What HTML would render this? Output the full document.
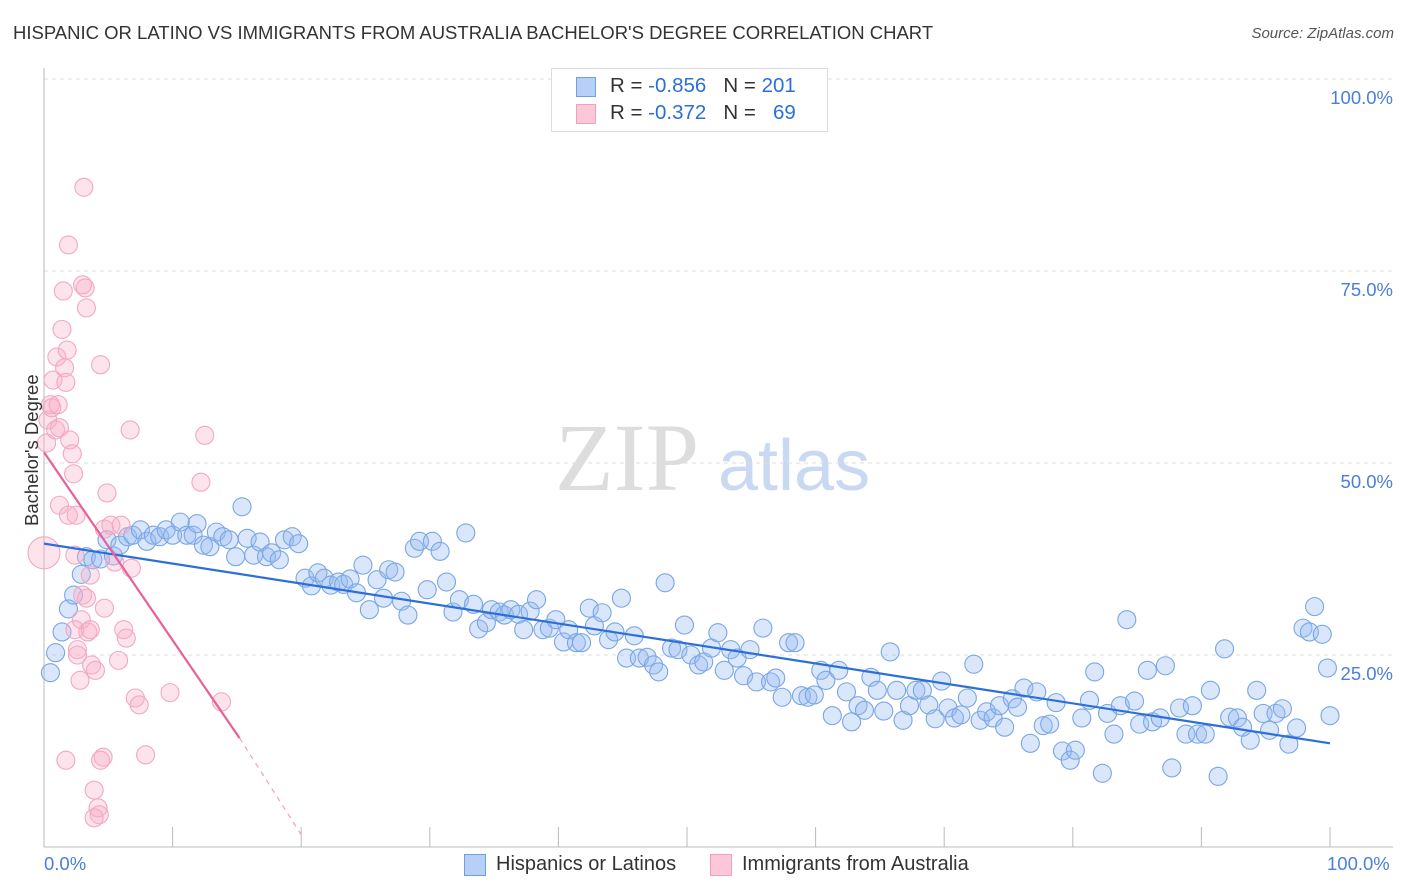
<!DOCTYPE html>
<html><head><meta charset="utf-8"><style>
body{margin:0;background:#fff;font-family:"Liberation Sans",sans-serif}
#c{position:relative;width:1406px;height:892px;overflow:hidden}
.t{position:absolute;white-space:nowrap}
</style></head><body>
<div id="c">
<div class="t" style="left:13px;top:22px;font-size:18.5px;color:#333">HISPANIC OR LATINO VS IMMIGRANTS FROM AUSTRALIA BACHELOR'S DEGREE CORRELATION CHART</div>
<div class="t" style="right:12px;top:25px;font-size:15px;color:#555;font-style:italic">Source: ZipAtlas.com</div>
<svg id="s" width="1406" height="892" style="position:absolute;left:0;top:0"></svg>
</div>
<script>
const blueX=[0.5,0.9,1.4,1.9,2.3,2.9,3.3,3.8,4.4,4.9,5.4,5.9,6.5,6.9,7.5,8.0,8.5,9.0,9.5,10.0,10.6,11.1,11.6,11.9,12.4,12.9,13.4,13.9,14.4,14.9,15.4,15.8,16.3,16.8,17.3,17.7,18.3,18.7,19.3,19.8,20.3,20.8,21.3,21.8,22.3,22.9,23.3,23.8,24.3,24.8,25.3,25.9,26.4,26.8,27.3,27.8,28.3,28.8,29.2,29.8,30.2,30.8,31.3,31.8,32.3,32.8,33.4,33.8,34.4,34.8,35.4,35.8,36.3,36.9,37.3,37.8,38.3,38.8,39.3,39.8,40.4,40.8,41.4,41.8,42.4,42.8,43.4,43.9,44.4,44.9,45.3,45.9,46.3,46.9,47.4,47.8,48.3,48.8,49.3,49.8,50.3,50.9,51.3,51.9,52.4,52.9,53.4,53.9,54.4,54.9,55.4,55.9,56.5,56.9,57.4,57.9,58.4,58.9,59.4,59.9,60.4,60.8,61.3,61.8,62.4,62.8,63.3,63.8,64.3,64.8,65.3,65.8,66.3,66.8,67.3,67.8,68.3,68.8,69.3,69.8,70.3,70.8,71.3,71.8,72.3,72.8,73.3,73.8,74.3,74.7,75.3,75.7,76.2,76.7,77.2,77.7,78.2,78.7,79.2,79.8,80.2,80.7,81.3,81.7,82.3,82.7,83.2,83.7,84.2,84.8,85.2,85.8,86.2,86.8,87.2,87.7,88.3,88.8,89.3,89.7,90.3,90.7,91.3,91.8,92.2,92.8,93.2,93.8,94.3,94.8,95.3,95.8,96.3,96.8,97.4,97.9,98.4,98.8,99.4,99.8,100];
const blueY=[22.7,25.3,28.0,31.0,32.8,35.5,37.8,37.4,37.5,40.0,37.9,39.3,40.4,40.6,41.3,39.8,40.6,40.4,41.3,40.6,42.3,40.6,40.6,42.1,39.3,39.1,41.0,40.4,40.0,37.8,44.3,40.2,38.0,39.7,37.8,38.3,37.4,40.0,40.4,39.5,35.0,34.0,35.7,35.0,34.1,34.5,34.2,34.9,33.1,36.7,30.9,34.8,32.4,36.1,35.8,32.0,30.2,38.9,39.8,33.5,39.8,38.5,34.5,30.6,32.2,40.9,31.6,28.4,29.2,30.9,30.6,30.2,30.9,30.3,28.3,30.7,32.2,28.3,28.5,29.6,26.7,28.3,26.6,26.6,31.1,28.8,30.5,27.0,28.0,32.4,24.6,27.5,24.6,24.7,23.7,22.8,34.4,25.9,25.7,28.9,25.0,23.7,24.1,25.9,27.9,23.0,25.7,24.6,22.3,25.7,21.5,28.5,21.5,22.0,19.5,26.6,26.6,19.7,19.5,19.8,23.0,21.7,17.1,23.0,20.2,16.3,18.4,17.8,22.1,20.4,17.7,25.4,20.4,16.5,18.4,20.4,20.4,18.5,16.7,21.6,18.1,16.8,17.2,19.4,23.8,16.5,17.6,16.8,18.4,15.6,19.3,18.2,20.7,13.5,20.2,15.8,16.0,18.8,12.5,11.3,12.6,16.8,19.1,22.8,9.6,17.4,14.7,18.4,29.6,19.0,16.0,23.0,16.3,16.8,23.6,10.3,18.1,14.7,18.4,14.7,14.7,20.4,9.2,25.8,16.9,16.8,15.6,13.9,20.4,17.4,15.2,17.4,18.0,13.4,15.5,28.5,28.0,31.3,27.7,23.3,17.1];
const pinkX=[0,0.2,0.3,0.5,0.6,0.7,0.9,1.0,1.2,1.2,1.4,1.5,1.6,1.7,1.8,1.9,1.9,2.0,2.2,2.3,2.4,2.5,2.6,2.6,2.8,3.0,3.0,3.1,3.2,3.3,3.4,3.6,3.7,3.9,4.0,4.2,4.3,4.4,4.6,4.7,4.7,4.9,5.2,5.5,5.8,6.0,6.2,6.4,6.7,6.8,7.1,7.4,7.9,9.8,12.2,12.5,13.8,1.7,1.1,2.4,2.9,3.3,3.6,4.4,3.9];
const pinkY=[38.3,52.6,55.6,57.6,57.2,60.8,54.3,63.8,54.6,44.5,67.4,72.4,62.4,60.5,64.7,78.4,43.2,53.0,51.2,48.6,28.3,43.2,25.7,25.0,21.7,32.8,73.2,85.9,72.8,70.2,28.0,35.4,23.7,7.4,23.0,5.1,4.2,62.8,11.7,41.4,31.1,46.1,41.9,37.1,24.3,41.9,28.3,27.2,54.3,36.3,19.4,18.5,12.0,20.1,47.5,53.6,18.9,11.3,57.6,38.0,29.6,32.4,28.3,11.3,3.8];
const blueTrend=[[0,39.5],[100,13.5]];
const pinkTrend=[[0,51.4],[15.2,14.2]];
const pinkDash=[[15.2,14.2],[20,1.6]];
const yTicks=[25,50,75,100];
const yTickLabels=["25.0%","50.0%","75.0%","100.0%"];

const X=v=>44+v*12.86, Y=v=>847-v*7.68;
const s=document.getElementById('s'),NS='http://www.w3.org/2000/svg';
function mk(t,a,p){const e=document.createElementNS(NS,t);for(const k in a)e.setAttribute(k,a[k]);(p||s).appendChild(e);return e;}
let w=mk('text',{x:555,y:490,'font-size':96,'font-family':'Liberation Serif,serif',fill:'#ddd'});w.textContent='ZIP';


let w2=mk('text',{x:718,y:490,'font-size':72,'font-family':'Liberation Sans,sans-serif',fill:'#c9d9f2'});w2.textContent='atlas';


yTicks.forEach((v,i)=>{
 let g=mk('line',{x1:44,x2:1393,y1:Y(v),y2:Y(v),stroke:'#ddd','stroke-dasharray':'4,4'});
 
 
 let t=mk('text',{x:1393,y:Y(v)+25,'text-anchor':'end','font-size':18.5,fill:'#4a7fd8','font-family':'Liberation Sans,sans-serif'});t.textContent=yTickLabels[i];
 
 
});
let ax=mk('line',{x1:44,x2:1393,y1:847,y2:847,stroke:'#bbb'});


let ay=mk('line',{x1:44,x2:44,y1:68,y2:847,stroke:'#bbb'});


for(let i=0;i<=10;i++){let t=mk('line',{x1:X(i*10),x2:X(i*10),y1:827,y2:847,stroke:'#bbb'});
 
 }
blueX.forEach((x,i)=>{let c=mk('circle',{cx:X(x),cy:Y(blueY[i]),r:9,fill:'rgba(150,185,240,0.35)',stroke:'#7aa6e4','stroke-width':1.1});
 
 });
pinkX.forEach((x,i)=>{let c=mk('circle',{cx:X(x),cy:Y(pinkY[i]),r:i==0?16:9,fill:'rgba(248,175,200,0.35)',stroke:'#f2a8c2','stroke-width':1.1});
 
 });
let bl=mk('line',{x1:X(blueTrend[0][0]),y1:Y(blueTrend[0][1]),x2:X(blueTrend[1][0]),y2:Y(blueTrend[1][1]),stroke:'#2c6fd6','stroke-width':2.2});


let pl=mk('line',{x1:X(pinkTrend[0][0]),y1:Y(pinkTrend[0][1]),x2:X(pinkTrend[1][0]),y2:Y(pinkTrend[1][1]),stroke:'#e8609a','stroke-width':2.2});


let pd=mk('line',{x1:X(pinkDash[0][0]),y1:Y(pinkDash[0][1]),x2:X(pinkDash[1][0]),y2:Y(pinkDash[1][1]),stroke:'#f0a0bc','stroke-width':1.2,'stroke-dasharray':'5,5'});


</script>
<div class="t" style="left:-38px;top:445px;font-size:18.5px;color:#333;transform:rotate(-90deg);transform-origin:center;width:140px;text-align:center">Bachelor's Degree</div>
<div class="t" style="left:44px;top:853px;font-size:18.5px;color:#4a7fd8">0.0%</div>
<div class="t" style="left:1327px;top:853px;font-size:18.5px;color:#4a7fd8">100.0%</div>
<div style="position:absolute;left:551px;top:68px;width:275px;height:62px;border:1px solid #ddd;background:#fff;font-size:20.5px;color:#333">
 <div style="position:absolute;left:24px;top:8px;width:18px;height:18px;background:#b8d0f5;border:1px solid #6f9fe0"></div>
 <div class="t" style="left:58px;top:5px">R = <span style="color:#2c6fd6">-0.856</span> &nbsp;&nbsp;N = <span style="color:#2c6fd6">201</span></div>
 <div style="position:absolute;left:24px;top:35px;width:18px;height:18px;background:#fcc8d8;border:1px solid #f0a0bc"></div>
 <div class="t" style="left:58px;top:32px">R = <span style="color:#2c6fd6">-0.372</span> &nbsp;&nbsp;N = &nbsp;&nbsp;<span style="color:#2c6fd6">69</span></div>
</div>
<div style="position:absolute;left:464px;top:853px;font-size:20px;color:#333">
 <div style="position:absolute;left:0;top:1px;width:20px;height:20px;background:#b8d0f5;border:1px solid #6f9fe0"></div>
 <div class="t" style="left:32px;top:0">Hispanics or Latinos</div>
 <div style="position:absolute;left:246px;top:1px;width:20px;height:20px;background:#fcc8d8;border:1px solid #f0a0bc"></div>
 <div class="t" style="left:278px;top:0">Immigrants from Australia</div>
</div>
</body></html>
